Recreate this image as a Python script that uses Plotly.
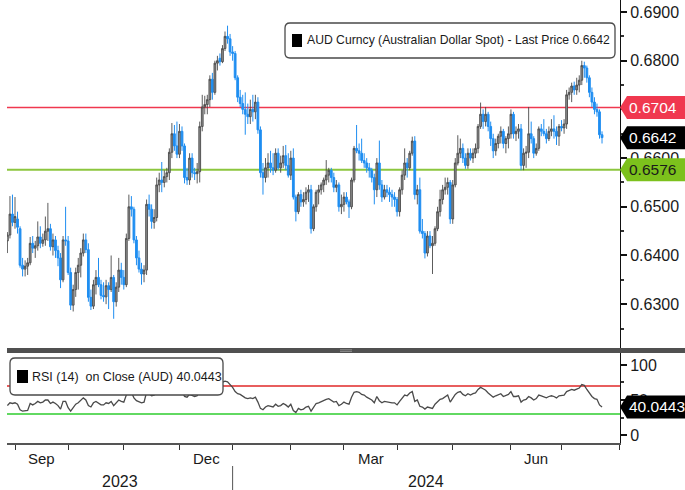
import pandas as pd
import plotly.graph_objects as go

# ---------------- data (AUD spot, daily, pips) ----------------
start_date = "2023-08-29"
end_date = "2024-07-23"

opens = [6430, 6442, 6485, 6468,
         6475, 6455, 6380, 6372, 6378, 6385, 6425, 6415, 6420, 6438,
         6425, 6432, 6450, 6455, 6418, 6432, 6410, 6395, 6350, 6432,
         6430, 6365, 6298, 6330, 6365, 6380, 6405, 6432, 6412, 6314,
         6296, 6340, 6355, 6340, 6318, 6315, 6338, 6330, 6355, 6305,
         6335, 6370, 6355, 6340, 6435, 6500, 6495, 6432, 6395, 6372,
         6362, 6370, 6505, 6495, 6468, 6478, 6545, 6555, 6550, 6562,
         6570, 6612, 6650, 6625, 6608, 6655, 6625, 6560, 6555, 6600,
         6570, 6568, 6572, 6665, 6705, 6710, 6720, 6762, 6735, 6795,
         6805, 6798, 6825, 6850, 6845, 6818, 6815, 6765, 6725, 6712,
         6700, 6690, 6685, 6700, 6695, 6715, 6658, 6570, 6560, 6580,
         6590, 6580, 6575, 6610, 6580, 6590, 6605, 6585, 6565, 6600,
         6520, 6490, 6525, 6510, 6515, 6530, 6535, 6455, 6500, 6530,
         6535, 6545, 6555, 6565, 6575, 6560, 6540, 6545, 6500, 6505,
         6520, 6510, 6500, 6555, 6620, 6615, 6610, 6595, 6590, 6580,
         6575, 6560, 6535, 6590, 6545, 6520, 6535, 6530, 6525, 6520,
         6515, 6490, 6535, 6565, 6590, 6580, 6610, 6635, 6525, 6535,
         6450, 6445, 6405, 6440, 6420, 6425, 6455, 6490, 6515, 6535,
         6540, 6550, 6475, 6545, 6590, 6610, 6620, 6600, 6585, 6610,
         6600, 6610, 6620, 6665, 6690, 6675, 6690, 6665, 6640, 6615,
         6630, 6645, 6655, 6630, 6640, 6650, 6690, 6650, 6655, 6660,
         6585, 6610, 6612, 6650, 6640, 6610, 6620, 6660, 6655, 6650,
         6640, 6655, 6660, 6655, 6645, 6665, 6662, 6670, 6730, 6735,
         6748, 6740, 6750, 6760, 6790, 6785, 6765, 6735, 6715, 6700,
         6695, 6648]
highs = [6448, 6522, 6525, 6520,
         6490, 6460, 6395, 6390, 6395, 6438, 6440, 6430, 6470, 6460,
         6445, 6480, 6508, 6465, 6445, 6440, 6420, 6405, 6440, 6500,
         6440, 6375, 6340, 6375, 6395, 6415, 6445, 6445, 6425, 6330,
         6350, 6370, 6395, 6350, 6345, 6350, 6345, 6400, 6360, 6345,
         6395, 6385, 6370, 6445, 6525, 6522, 6500, 6440, 6410, 6385,
         6380, 6515, 6525, 6505, 6495, 6560, 6570, 6592, 6575, 6580,
         6620, 6672, 6668, 6675, 6670, 6665, 6630, 6580, 6610, 6610,
         6580, 6590, 6675, 6730, 6728, 6730, 6770, 6775, 6800, 6810,
         6815, 6832, 6860, 6872, 6855, 6830, 6820, 6770, 6740, 6730,
         6735, 6712, 6720, 6730, 6730, 6725, 6665, 6590, 6600, 6610,
         6615, 6610, 6620, 6620, 6605, 6625, 6627, 6610, 6615, 6620,
         6525, 6530, 6535, 6530, 6540, 6545, 6545, 6505, 6535, 6545,
         6550, 6560, 6596, 6580, 6580, 6570, 6555, 6550, 6525, 6530,
         6530, 6515, 6560, 6625, 6668, 6630, 6640, 6610, 6600, 6590,
         6580, 6568, 6600, 6636, 6555, 6545, 6545, 6540, 6535, 6530,
         6520, 6540, 6575, 6620, 6600, 6615, 6644, 6645, 6545, 6560,
         6475, 6450, 6450, 6450, 6440, 6460, 6500, 6535, 6545, 6560,
         6560, 6555, 6555, 6600, 6647, 6640, 6630, 6610, 6620, 6620,
         6620, 6630, 6670, 6714, 6700, 6705, 6695, 6675, 6650, 6640,
         6650, 6665, 6660, 6645, 6665, 6700, 6695, 6665, 6670, 6670,
         6620, 6625, 6705, 6675, 6645, 6630, 6665, 6670, 6680, 6660,
         6665, 6680, 6688, 6665, 6670, 6678, 6680, 6740, 6745, 6755,
         6757, 6765, 6770, 6800, 6798, 6790, 6770, 6745, 6725, 6712,
         6700, 6655]
lows = [6405, 6435, 6460, 6455,
        6445, 6375, 6357, 6357, 6360, 6380, 6405, 6395, 6410, 6415,
        6418, 6420, 6430, 6410, 6400, 6395, 6378, 6333, 6345, 6420,
        6360, 6288, 6285, 6315, 6330, 6355, 6398, 6405, 6305, 6288,
        6290, 6320, 6335, 6310, 6305, 6300, 6290, 6325, 6270, 6295,
        6325, 6340, 6330, 6335, 6430, 6480, 6425, 6380, 6365, 6340,
        6345, 6360, 6480, 6455, 6455, 6470, 6530, 6530, 6540, 6550,
        6555, 6600, 6615, 6600, 6600, 6615, 6548, 6545, 6545, 6560,
        6555, 6548, 6550, 6655, 6690, 6690, 6705, 6720, 6730, 6780,
        6790, 6795, 6820, 6835, 6810, 6800, 6760, 6715, 6705, 6690,
        6648, 6670, 6670, 6675, 6680, 6650, 6560, 6525, 6550, 6560,
        6570, 6565, 6570, 6575, 6570, 6580, 6575, 6560, 6555, 6515,
        6470, 6485, 6500, 6500, 6505, 6510, 6445, 6450, 6490, 6505,
        6525, 6530, 6545, 6550, 6550, 6530, 6530, 6490, 6485, 6490,
        6505, 6477, 6495, 6550, 6610, 6595, 6590, 6580, 6570, 6560,
        6550, 6505, 6520, 6535, 6510, 6515, 6520, 6510, 6500, 6500,
        6480, 6480, 6525, 6555, 6560, 6575, 6605, 6515, 6505, 6445,
        6435, 6394, 6398, 6415, 6362, 6420, 6450, 6480, 6505, 6525,
        6525, 6465, 6465, 6540, 6585, 6600, 6590, 6578, 6578, 6595,
        6590, 6600, 6610, 6660, 6660, 6665, 6655, 6625, 6600, 6605,
        6620, 6630, 6620, 6610, 6620, 6640, 6640, 6635, 6640, 6575,
        6575, 6580, 6600, 6630, 6600, 6605, 6615, 6645, 6645, 6630,
        6635, 6645, 6640, 6627, 6625, 6655, 6650, 6660, 6720, 6715,
        6730, 6730, 6735, 6750, 6765, 6755, 6725, 6705, 6690, 6685,
        6640, 6630]
closes = [6442, 6485, 6468, 6480,
          6458, 6380, 6372, 6378, 6385, 6425, 6415, 6420, 6438, 6425,
          6432, 6450, 6455, 6418, 6432, 6410, 6395, 6350, 6432, 6430,
          6365, 6298, 6330, 6365, 6380, 6405, 6432, 6412, 6314, 6296,
          6340, 6355, 6340, 6318, 6315, 6338, 6330, 6355, 6305, 6335,
          6370, 6355, 6340, 6435, 6500, 6495, 6432, 6395, 6372, 6362,
          6370, 6505, 6495, 6470, 6478, 6545, 6555, 6550, 6562, 6570,
          6612, 6650, 6625, 6608, 6655, 6625, 6560, 6555, 6600, 6570,
          6568, 6572, 6665, 6705, 6710, 6720, 6762, 6735, 6795, 6800,
          6798, 6825, 6850, 6845, 6818, 6815, 6765, 6725, 6712, 6700,
          6690, 6685, 6700, 6695, 6715, 6658, 6570, 6560, 6580, 6590,
          6580, 6575, 6610, 6580, 6590, 6605, 6585, 6565, 6600, 6520,
          6490, 6525, 6510, 6515, 6530, 6535, 6455, 6500, 6530, 6535,
          6545, 6555, 6565, 6575, 6560, 6540, 6545, 6500, 6505, 6520,
          6510, 6500, 6555, 6620, 6615, 6610, 6595, 6590, 6580, 6575,
          6560, 6535, 6590, 6545, 6520, 6535, 6530, 6525, 6520, 6515,
          6490, 6535, 6565, 6590, 6580, 6610, 6635, 6525, 6535, 6450,
          6445, 6405, 6440, 6420, 6425, 6455, 6490, 6515, 6535, 6540,
          6550, 6475, 6545, 6590, 6610, 6620, 6600, 6585, 6610, 6600,
          6610, 6620, 6665, 6690, 6675, 6690, 6665, 6640, 6615, 6630,
          6645, 6655, 6630, 6640, 6650, 6690, 6650, 6655, 6660, 6585,
          6610, 6612, 6650, 6640, 6610, 6620, 6660, 6655, 6650, 6640,
          6655, 6660, 6655, 6645, 6665, 6662, 6670, 6730, 6735, 6748,
          6740, 6750, 6760, 6790, 6785, 6765, 6735, 6715, 6700, 6695,
          6648, 6642]
rsi14 = [42, 46, 45, 46,
         44, 36, 34, 34, 35, 45, 43, 45, 48, 46,
         47, 50, 50, 45, 47, 45, 42, 37, 48, 48,
         39, 34, 39, 44, 46, 49, 53, 50, 42, 40,
         46, 48, 46, 43, 43, 46, 45, 48, 42, 46,
         50, 48, 47, 57, 62, 61, 53, 49, 47, 46,
         47, 61, 59, 56, 57, 63, 64, 63, 64, 65,
         68, 71, 66, 63, 67, 63, 55, 54, 58, 56,
         55, 56, 66, 70, 71, 72, 75, 72, 76, 77,
         74, 75, 77, 76, 72, 68, 62, 59, 58, 55,
         53, 52, 53, 52, 54, 47, 38, 36, 40, 42,
         41, 40, 44, 41, 42, 45, 43, 40, 44, 35,
         32, 38, 36, 37, 40, 41, 34, 40, 45, 46,
         48, 50, 51, 52, 50, 47, 48, 42, 44, 47,
         45, 44, 54, 61, 62, 61, 58, 57, 54, 52,
         50, 46, 55, 49, 46, 48, 47, 47, 46, 46,
         43, 48, 53, 57, 56, 60, 62, 48, 50, 41,
         40, 37, 40, 39, 38, 44, 48, 51, 52, 54,
         57, 47, 53, 58, 61, 62, 58, 56, 59, 57,
         59, 60, 65, 68, 66, 64, 60, 57, 54, 56,
         58, 59, 55, 57, 58, 62, 55, 55, 56, 47,
         50, 51, 55, 53, 50, 52, 57, 56, 55, 53,
         55, 56, 55, 53, 56, 56, 57, 62, 63, 65,
         64, 66, 67, 72, 71, 65, 59, 55, 52, 51,
         43, 40.0443]

last_price = 0.6642
resistance = 0.6704
support = 0.6576
rsi_last = 40.0443
rsi_upper = 70
rsi_lower = 30
price_ticks = [0.63, 0.64, 0.65, 0.66, 0.67, 0.68, 0.69]
rsi_ticks = [0, 50, 100]
quarter_labels = ["Sep", "Dec", "Mar", "Jun"]
year_labels = ["2023", "2024"]

# ---------------- derived axis positions ----------------
dates = pd.bdate_range(start_date, end_date)
n = len(dates)
O = [v / 10000 for v in opens[:n]]
H = [v / 10000 for v in highs[:n]]
L = [v / 10000 for v in lows[:n]]
C = [v / 10000 for v in closes[:n]]
xi = list(range(n))

calendar = pd.bdate_range(start_date, "2024-08-01")
month_starts = []
prev = None
for k, d in enumerate(calendar):
    key = (d.year, d.month)
    if key != prev:
        if k > 0:
            month_starts.append(k)
        prev = key
jan_idx = [k for k, d in enumerate(calendar) if d.year == 2024][0]

X0, X1 = -0.16, 242.1
FONT = "Liberation Sans, Arial, sans-serif"
W, Hh = 685, 490
ML, MR, MB, MT = 7, 65, 47, 0
PW, PH = W - ML - MR, Hh - MT - MB


def pxx(px):
    return (px - ML) / PW


def pxy(py):
    return (Hh - MB - py) / PH


main_dom = [pxy(348), 1.0]
rsi_dom = [0.0, pxy(353)]
YR = [0.6210, 0.69247]
RR = [-11.4, 117.1]

fig = go.Figure()
fig.add_trace(go.Candlestick(
    x=xi, open=O, high=H, low=L, close=C,
    increasing=dict(line=dict(color="#4a4a4a", width=0.9), fillcolor="#8e8e8e"),
    decreasing=dict(line=dict(color="#1f8ef1", width=1), fillcolor="#1f8ef1"),
    whiskerwidth=0, showlegend=False, xaxis="x", yaxis="y", hoverinfo="skip"))
fig.add_trace(go.Scatter(
    x=xi, y=rsi14[:n], mode="lines", line=dict(color="#4a4a4a", width=1.3),
    showlegend=False, xaxis="x2", yaxis="y2", hoverinfo="skip"))

shapes = []
# horizontal levels
shapes.append(dict(type="line", xref="paper", yref="y", x0=0, x1=1, y0=resistance, y1=resistance,
                   line=dict(color="#f0384f", width=1.5), layer="below"))
shapes.append(dict(type="line", xref="paper", yref="y", x0=0, x1=1, y0=support, y1=support,
                   line=dict(color="#8cc63e", width=2), layer="below"))
shapes.append(dict(type="line", xref="paper", yref="y2", x0=0, x1=1, y0=rsi_upper, y1=rsi_upper,
                   line=dict(color="#e02828", width=1.3), layer="below"))
shapes.append(dict(type="line", xref="paper", yref="y2", x0=0, x1=1, y0=rsi_lower, y1=rsi_lower,
                   line=dict(color="#2ecc2e", width=1.3), layer="below"))

# separator bar between panels
shapes.append(dict(type="rect", xref="paper", yref="paper", x0=0, x1=pxx(W + 2),
                   y0=pxy(353), y1=pxy(348), fillcolor="#505050", line=dict(width=0), layer="above"))
for dy in (349.8, 351.4):
    shapes.append(dict(type="line", xref="paper", yref="paper", x0=pxx(340), x1=pxx(352),
                       y0=pxy(dy), y1=pxy(dy), line=dict(color="#9a9a9a", width=0.8), layer="above"))

# year separator under axis
shapes.append(dict(type="line", xref="x2", yref="paper", x0=jan_idx, x1=jan_idx,
                   y0=pxy(466), y1=pxy(492), line=dict(color="#555555", width=1)))


def rrect(x0, y0, x1, y1, r):
    def P(a, b):
        return f"{pxx(a):.5f},{pxy(b):.5f}"
    return (f"M {P(x0 + r, y0)} L {P(x1 - r, y0)} Q {P(x1, y0)} {P(x1, y0 + r)} "
            f"L {P(x1, y1 - r)} Q {P(x1, y1)} {P(x1 - r, y1)} L {P(x0 + r, y1)} "
            f"Q {P(x0, y1)} {P(x0, y1 - r)} L {P(x0, y0 + r)} Q {P(x0, y0)} {P(x0 + r, y0)} Z")


shapes.append(dict(type="path", xref="paper", yref="paper", path=rrect(285, 23, 615, 58, 5),
                   fillcolor="white", line=dict(color="#4a4a4a", width=1.3), layer="above"))
shapes.append(dict(type="path", xref="paper", yref="paper", path=rrect(10, 358, 223, 395, 5),
                   fillcolor="white", line=dict(color="#4a4a4a", width=1.3), layer="above"))
# legend colour keys
shapes.append(dict(type="rect", xref="paper", yref="paper", x0=pxx(292), x1=pxx(302),
                   y0=pxy(47), y1=pxy(34), fillcolor="black", line=dict(width=0), layer="above"))
shapes.append(dict(type="rect", xref="paper", yref="paper", x0=pxx(17), x1=pxx(28),
                   y0=pxy(383), y1=pxy(370), fillcolor="black", line=dict(width=0), layer="above"))

# value flags on right axis
main_ppu = 348 / (YR[1] - YR[0])
rsi_ppu = (443 - 353) / (RR[1] - RR[0])


def flag(val, ppu, yref, color):
    h = 11.5 / ppu
    tip, body, right = pxx(620), pxx(627), pxx(W + 5)
    path = (f"M {tip:.5f},{val} L {body:.5f},{val + h} L {right:.5f},{val + h} "
            f"L {right:.5f},{val - h} L {body:.5f},{val - h} Z")
    return dict(type="path", xref="paper", yref=yref, path=path, fillcolor=color,
                line=dict(width=0), layer="above")


shapes.append(flag(resistance, main_ppu, "y", "#f0384f"))
shapes.append(flag(last_price, main_ppu, "y", "#000000"))
shapes.append(flag(support, main_ppu, "y", "#7cc11c"))
shapes.append(flag(rsi_last, rsi_ppu, "y2", "#000000"))

ann = []
for val, yref, col, txt in [(resistance, "y", "white", f"{resistance:.4f}"),
                            (last_price, "y", "white", f"{last_price:.4f}"),
                            (support, "y", "#1a1a1a", f"{support:.4f}"),
                            (rsi_last, "y2", "white", f"{rsi_last:.4f}")]:
    ann.append(dict(xref="paper", yref=yref, x=pxx(627), y=val, text=txt, showarrow=False,
                    xanchor="left", yanchor="middle", font=dict(family=FONT, size=15.5, color=col)))

ann.append(dict(xref="paper", yref="paper", x=pxx(305), y=pxy(40.5), xanchor="left", yanchor="middle",
                showarrow=False, font=dict(family=FONT, size=12.2, color="#1a1a1a"),
                text="AUD Curncy (Australian Dollar Spot) - Last Price " + f"{last_price:.4f}"))
ann.append(dict(xref="paper", yref="paper", x=pxx(30), y=pxy(376.5), xanchor="left", yanchor="middle",
                showarrow=False, font=dict(family=FONT, size=12.5, color="#1a1a1a"),
                text="RSI (14) \u00a0on Close (AUD) " + f"{rsi_last:.4f}"))

# quarter + year labels
q_pos = []
for a, b in zip(month_starts[:-1], month_starts[1:]):
    m = calendar[a].month
    if m in (9, 12, 3, 6):
        q_pos.append((a + b) / 2)
for lab, p in zip(quarter_labels, q_pos):
    ann.append(dict(xref="x2", yref="paper", x=p, y=pxy(458), text=lab, showarrow=False,
                    xanchor="center", yanchor="middle", font=dict(family=FONT, size=15, color="#1a1a1a")))
y_pos = [(X0 + jan_idx) / 2, (jan_idx + X1) / 2]
for lab, p in zip(year_labels, y_pos):
    ann.append(dict(xref="x2", yref="paper", x=p, y=pxy(481), text=lab, showarrow=False,
                    xanchor="center", yanchor="middle", font=dict(family=FONT, size=16, color="#1a1a1a")))

fig.update_layout(
    width=W, height=Hh, margin=dict(l=ML, r=MR, t=MT, b=MB, pad=0),
    paper_bgcolor="white", plot_bgcolor="white", showlegend=False, hovermode=False,
    boxgap=0.0,
    shapes=shapes, annotations=ann,
    xaxis=dict(domain=[0, 1], range=[X0, X1], anchor="y", showticklabels=False, showgrid=False,
               zeroline=False, showline=False, rangeslider=dict(visible=False), fixedrange=True),
    xaxis2=dict(domain=[0, 1], range=[X0, X1], anchor="y2", showgrid=False, zeroline=False,
                tickmode="array", tickvals=month_starts, ticktext=["" for _ in month_starts],
                ticks="outside", ticklen=5, tickwidth=1.2, tickcolor="#333333",
                showline=True, linecolor="#555555", linewidth=2),
    yaxis=dict(domain=main_dom, range=YR, anchor="x", side="right", showgrid=False, zeroline=False,
               tickmode="array", tickvals=price_ticks, ticktext=[f"{v:.4f}" for v in price_ticks],
               ticks="outside", ticklen=6, tickwidth=2, tickcolor="#111111",
               minor=dict(dtick=0.005, tick0=0.6, ticks="outside", ticklen=3, tickcolor="#333333"),
               showline=True, linecolor="#111111", linewidth=1,
               tickfont=dict(family=FONT, size=16, color="#1a1a1a")),
    yaxis2=dict(domain=rsi_dom, range=RR, anchor="x2", side="right", showgrid=False, zeroline=False,
                tickmode="array", tickvals=rsi_ticks, ticktext=[str(v) for v in rsi_ticks],
                ticks="outside", ticklen=6, tickwidth=2, tickcolor="#111111",
                minor=dict(dtick=25, tick0=0, ticks="outside", ticklen=3, tickcolor="#333333"),
                showline=True, linecolor="#111111", linewidth=1,
                tickfont=dict(family=FONT, size=16, color="#1a1a1a")),
)

fig.write_html("out.html", config={"displayModeBar": False},
               post_script="document.body.style.margin='0px';document.body.style.overflow='hidden';")
